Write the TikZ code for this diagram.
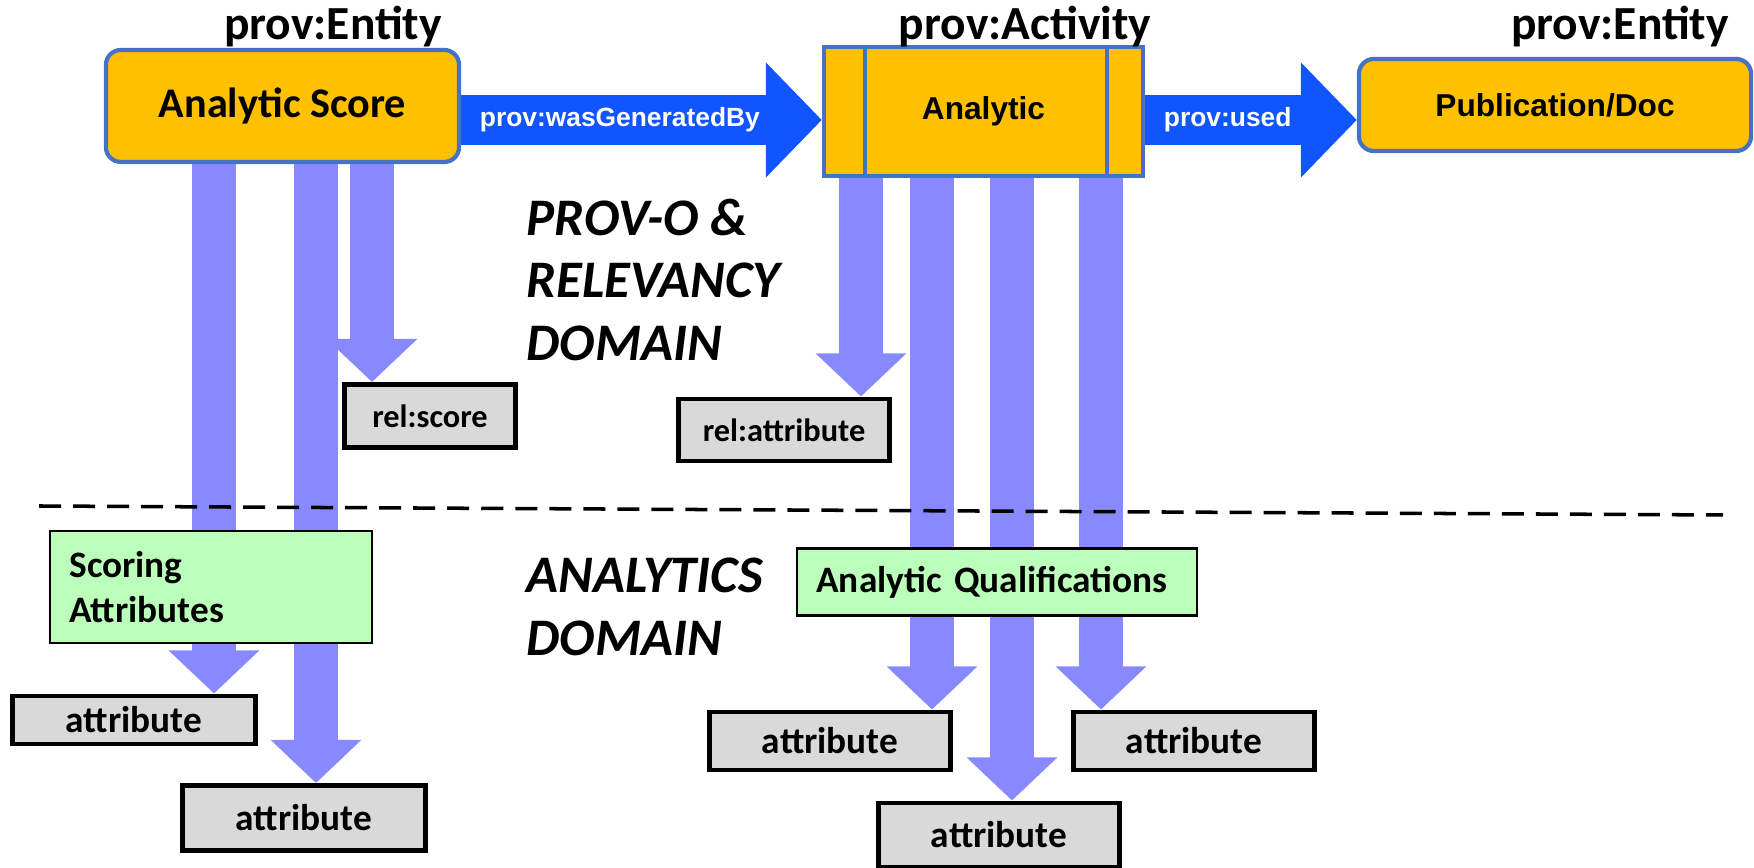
\documentclass[tikz,border=0pt]{standalone}
\usepackage{fontspec}
\setmainfont{Carlito}
\newfontfamily\arialfont{Liberation Sans}
\usetikzlibrary{positioning, calc, arrows.meta, backgrounds}

\definecolor{provorange}{RGB}{255,192,0}
\definecolor{provborder}{RGB}{68,114,196}
\definecolor{provblue}{RGB}{17,85,255}
\definecolor{attrblue}{RGB}{136,136,255}
\definecolor{attrgray}{RGB}{217,217,217}
\definecolor{qualgreen}{RGB}{187,255,187}

\begin{document}
\begin{tikzpicture}[x=0.01cm, y=-0.01cm,
    entitybox/.style={draw=provborder, fill=provorange, line width=1.2pt, rounded corners=0.15cm, inner sep=0pt},
    activitybox/.style={draw=provborder, fill=provorange, line width=1.2pt, inner sep=0pt,
        minimum width=3.19cm, minimum height=1.29cm, font=\arialfont\fontsize{9}{11}\selectfont\bfseries},
    attrbox/.style={draw=black, fill=attrgray, line width=1.4pt, inner sep=0pt,
        font=\fontsize{10.6}{12}\selectfont\bfseries},
    qualbox/.style={draw=black, fill=qualgreen, line width=0.6pt, inner xsep=0.19cm, align=left,
        font=\fontsize{10.6}{12.8}\selectfont\bfseries},
    provlabel/.style={font=\fontsize{13.5}{15}\selectfont\bfseries},
    domainlabel/.style={anchor=west, align=left, inner xsep=0pt, font=\fontsize{15}{17.9}\selectfont\bfseries\itshape},
    flowlabel/.style={text=white, font=\arialfont\fontsize{7.5}{9}\selectfont\bfseries},
    relarrow/.style={draw=provblue, line width=0.5cm, -{Triangle[length=0.56cm 0 0, width=1.12cm 0 0]}},
    attrarrow/.style={draw=attrblue, line width=0.44cm, -{Triangle[length=0.43cm 0 0, width=0.88cm 0 0]}},
    divider/.style={line width=1pt, dash pattern=on 0.22cm off 0.12cm},
]
    \useasboundingbox (0,0) rectangle (1754,868);

    % prov classes
    \path (282.5,106) node[entitybox, minimum width=3.53cm, minimum height=1.12cm,
        font=\fontsize{12}{14}\selectfont\bfseries](AnalyticScore){Analytic Score};
    \path (983.5,111.5) node[activitybox](Analytic){Analytic};
    \path (1555,105) node[entitybox, minimum width=3.92cm, minimum height=0.92cm,
        font=\arialfont\fontsize{9}{11}\selectfont\bfseries](PublicationDoc){Publication/Doc};
    \draw[draw=provborder, line width=1.2pt] ([xshift=0.43cm]Analytic.north west) -- ([xshift=0.43cm]Analytic.south west);
    \draw[draw=provborder, line width=1.2pt] ([xshift=-0.38cm]Analytic.north east) -- ([xshift=-0.38cm]Analytic.south east);

    \path (333,27) node[provlabel](EntityLabelA){prov:Entity};
    \path (1025,27) node[provlabel](ActivityLabel){prov:Activity};
    \path (1620,27) node[provlabel](EntityLabelB){prov:Entity};

    % attribute boxes
    \path (134,720) node[attrbox, minimum width=2.42cm, minimum height=0.48cm](AttrA){attribute};
    \path (304,818) node[attrbox, minimum width=2.43cm, minimum height=0.65cm](AttrB){attribute};
    \path (430,416) node[attrbox, minimum width=1.70cm, minimum height=0.63cm,
        font=\fontsize{9.2}{11}\selectfont\bfseries](RelScore){rel:score};
    \path (784,430) node[attrbox, minimum width=2.10cm, minimum height=0.62cm,
        font=\fontsize{9.2}{11}\selectfont\bfseries](RelAttribute){rel:attribute};
    \path (830,741) node[attrbox, minimum width=2.41cm, minimum height=0.58cm](AttrC){attribute};
    \path (999,835) node[attrbox, minimum width=2.40cm, minimum height=0.64cm](AttrD){attribute};
    \path (1194,741) node[attrbox, minimum width=2.40cm, minimum height=0.58cm](AttrE){attribute};

    % arrow columns
    \coordinate (FlowRow) at (0,120);
    \coordinate (ColA) at (214,0);
    \coordinate (ColB) at (316,0);
    \coordinate (ColC) at (372,0);
    \coordinate (ColD) at (861,0);
    \coordinate (ColE) at (932,0);
    \coordinate (ColF) at (1012,0);
    \coordinate (ColG) at (1101,0);

    \begin{pgfonlayer}{background}
        \draw[relarrow] (AnalyticScore.east |- FlowRow) -- (Analytic.west |- FlowRow)
            node[pos=0.44, flowlabel]{prov:wasGeneratedBy};
        \draw[relarrow] (Analytic.east |- FlowRow) -- (PublicationDoc.west |- FlowRow)
            node[pos=0.39, flowlabel]{prov:used};
        \draw[attrarrow] (AnalyticScore.south -| ColA) -- (AttrA.north -| ColA);
        \draw[attrarrow] (AnalyticScore.south -| ColB) -- (AttrB.north -| ColB);
        \draw[attrarrow] (AnalyticScore.south -| ColC) -- (RelScore.north -| ColC);
        \draw[attrarrow] (Analytic.south -| ColD) -- (RelAttribute.north -| ColD);
        \draw[attrarrow] (Analytic.south -| ColE) -- (AttrC.north -| ColE);
        \draw[attrarrow] (Analytic.south -| ColF) -- (AttrD.north -| ColF);
        \draw[attrarrow] (Analytic.south -| ColG) -- (AttrE.north -| ColG);
    \end{pgfonlayer}

    % analytics domain
    \path (211,587) node[qualbox, text width=2.83cm, minimum height=1.12cm](ScoringAttributes){Scoring\\Attributes};
    \path (997,582) node[qualbox, text width=3.61cm, minimum height=0.67cm](AnalyticQualifications){Analytic Qualifications};

    \coordinate (DivLeft) at (39,506);
    \coordinate (DivRight) at (1723,515);
    \draw[divider] (DivLeft) -- (DivRight);

    \path (526,280) node[domainlabel](ProvDomain){PROV-O \&\\RELEVANCY\\DOMAIN};
    \path (526,607) node[domainlabel](AnalyticsDomain){ANALYTICS\\DOMAIN};
\end{tikzpicture}
\end{document}
